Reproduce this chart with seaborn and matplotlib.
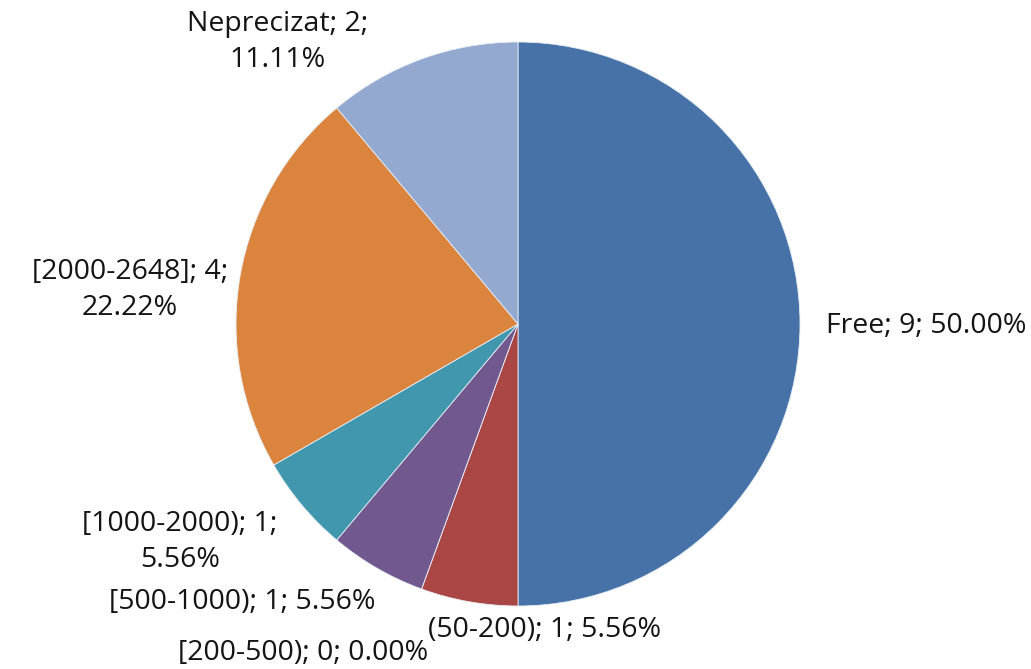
import matplotlib
matplotlib.use('Agg')
import matplotlib.pyplot as plt
import seaborn as sns

# categories and counts (clockwise from 12 o'clock)
categories = ['Free', '(50-200)', '[200-500)', '[500-1000)', '[1000-2000)', '[2000-2648]', 'Neprecizat']
counts = [9, 1, 0, 1, 1, 4, 2]
colors = ['#4672A8', '#AA4644', '#B0B0B0', '#71598F', '#4197AE', '#DB843D', '#93A9CF']

# label text layout (line breaks as in the original)
label_texts = [
    'Free; 9; 50.00%',
    '(50-200); 1; 5.56%',
    '[200-500); 0; 0.00%',
    '[500-1000); 1; 5.56%',
    '[1000-2000); 1;\n5.56%',
    '[2000-2648]; 4;\n22.22%',
    'Neprecizat; 2;\n11.11%',
]
# label centres in pixels (x, y from top)
label_px = [(926, 326), (545, 630), (303, 653), (242, 602), (180, 542), (130, 290), (278, 42)]

sns.set_style('white')
plt.rcParams['font.family'] = ['Open Sans', 'DejaVu Sans']

W, H = 1031, 669
fig = plt.figure(figsize=(W / 100, H / 100), dpi=100)
cx, cy, r = 518, 324, 282
ax = fig.add_axes([(cx - r) / W, (H - cy - r) / H, 2 * r / W, 2 * r / H])

ax.pie(counts, colors=colors, startangle=90, counterclock=False,
       wedgeprops=dict(edgecolor='#E8EEF6', linewidth=0.6))
ax.set_xlim(-1, 1)
ax.set_ylim(-1, 1)
ax.axis('off')

for txt, (px, py) in zip(label_texts, label_px):
    fig.text(px / W, 1 - py / H, txt, ha='center', va='center',
             fontsize=20.5, color='#141414', linespacing=1.4)

fig.savefig('out.png', dpi=100, facecolor='white')
